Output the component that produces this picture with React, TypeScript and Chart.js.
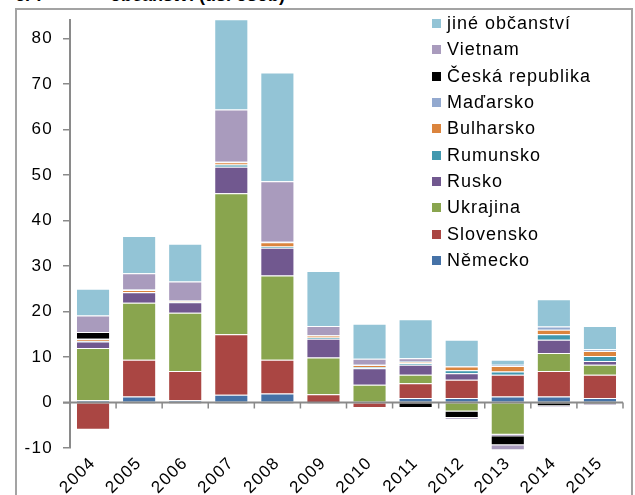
import React, { useEffect, useRef } from "react";
import { Chart, registerables } from "chart.js";

Chart.register(...registerables);

const years = ["2004", "2005", "2006", "2007", "2008", "2009", "2010", "2011", "2012", "2013", "2014", "2015"];

const nemecko = [0.5, 1.3, 0.5, 1.7, 2.0, 0.1, 0, 1.0, 1.0, 1.3, 1.3, 1.0];
const slovensko = [-6.0, 8.1, 6.4, 13.3, 7.4, 1.7, -1.2, 3.2, 4.0, 4.8, 5.6, 5.1];
const ukrajina = [11.5, 12.5, 12.8, 31.0, 18.5, 8.1, 3.9, 1.9, -2.0, -7.1, 4.0, 2.2];
const rusko = [1.4, 2.3, 2.3, 5.8, 6.1, 4.1, 3.6, 2.2, 1.4, -0.3, 2.9, 0.8];
const rumunsko = [0.1, 0.1, 0.2, 0.5, 0.3, 0.3, 0.3, 0.3, 0.7, 0.7, 1.2, 1.1];
const bulharsko = [0.4, 0.4, 0.1, 0.5, 0.9, 0.4, 0.4, 0.3, 0.8, 1.2, 1.0, 1.1];
const madarsko = [0.1, 0.1, 0.1, 0.1, 0.1, 0.1, 0.1, 0.2, 0.1, 0.3, 0.7, 0.4];
const ceskaRepublika = [1.5, -0.3, -0.3, -0.3, -0.3, -0.3, 0, -1.2, -1.4, -2.0, -0.8, -0.4];
const vietnam = [3.6, 3.6, 4.2, 11.5, 13.3, 2.0, 1.3, 0.6, -0.4, -1.1, -0.3, -0.3];
const jine = [5.9, 8.2, 8.3, 19.8, 23.9, 12.1, 7.7, 8.6, 5.8, 1.1, 6.0, 5.1];

const seriesNames = ["Německo", "Slovensko", "Ukrajina", "Rusko", "Rumunsko", "Bulharsko", "Maďarsko", "Česká republika", "Vietnam", "jiné občanství"];
const seriesData = [nemecko, slovensko, ukrajina, rusko, rumunsko, bulharsko, madarsko, ceskaRepublika, vietnam, jine];
const seriesColors = ["#4572a7", "#aa4643", "#89a54e", "#71588f", "#4198af", "#db843d", "#93a9cf", "#000000", "#a99bbd", "#93c4d6"];

const yTickValues = [-10, 0, 10, 20, 30, 40, 50, 60, 70, 80];

const FONT = "'Liberation Sans', Arial, sans-serif";

const letterSpacingPlugin = {
  id: "letterSpacing",
  beforeDraw(chart: any) {
    try {
      (chart.ctx as any).letterSpacing = "1.3px";
    } catch (e) {}
  },
};

const zeroAxisPlugin = {
  id: "zeroAxis",
  afterDatasetsDraw(chart: any) {
    const { ctx, chartArea, scales } = chart;
    const y0 = scales.y.getPixelForValue(0);
    ctx.save();
    ctx.strokeStyle = "#8a8a8a";
    ctx.lineWidth = 2;
    ctx.beginPath();
    ctx.moveTo(chartArea.left - 7, y0);
    ctx.lineTo(chartArea.right, y0);
    ctx.stroke();
    const n = years.length;
    const w = (chartArea.right - chartArea.left) / n;
    ctx.lineWidth = 1.5;
    for (let i = 1; i <= n; i++) {
      const x = chartArea.left + i * w;
      ctx.beginPath();
      ctx.moveTo(x, y0);
      ctx.lineTo(x, y0 + 6);
      ctx.stroke();
    }
    ctx.restore();
  },
};

export default function App() {
  const canvasRef = useRef<HTMLCanvasElement | null>(null);

  useEffect(() => {
    if (!canvasRef.current) return;
    const chart = new Chart(canvasRef.current, {
      type: "bar",
      data: {
        labels: years,
        datasets: seriesNames.map((name, i) => ({
          label: name,
          data: seriesData[i],
          backgroundColor: seriesColors[i],
          borderColor: "rgba(255,255,255,0.35)",
          borderWidth: 1,
          categoryPercentage: 1,
          barPercentage: 0.74,
          clip: false as any,
        })),
      },
      options: {
        animation: false,
        responsive: false,
        devicePixelRatio: 1,
        layout: { padding: { top: 19, right: 12, left: 0, bottom: 0 } },
        plugins: {
          legend: { display: false },
          tooltip: { enabled: false },
          title: { display: false },
        },
        scales: {
          x: {
            stacked: true,
            grid: { display: false },
            border: { display: false },
            ticks: {
              color: "#000",
              font: { family: FONT, size: 17 },
              minRotation: 45,
              maxRotation: 45,
              padding: -3,
            },
            afterFit(scale: any) {
              scale.height = 47;
            },
          },
          y: {
            stacked: true,
            min: -10,
            max: 84,
            border: { display: true, color: "#8a8a8a", width: 2 },
            grid: {
              display: true,
              drawOnChartArea: false,
              drawTicks: true,
              tickLength: 7,
              color: "#8a8a8a",
              lineWidth: 1.5,
            },
            ticks: {
              color: "#000",
              font: { family: FONT, size: 17 },
              padding: 10,
              stepSize: 10,
            },
            afterBuildTicks(scale: any) {
              scale.ticks = yTickValues.map((v) => ({ value: v }));
            },
            afterFit(scale: any) {
              scale.width = 70;
            },
          },
        },
      },
      plugins: [letterSpacingPlugin, zeroAxisPlugin],
    } as any);
    return () => chart.destroy();
  }, []);

  const legendItems = seriesNames.map((n, i) => ({ name: n, color: seriesColors[i] })).reverse();

  return (
    <div style={{ position: "fixed", left: 0, top: 0, width: 635, height: 495, overflow: "hidden", background: "#fff" }}>
      <div
        style={{
          position: "absolute",
          left: 15,
          top: 8,
          width: 618,
          height: 520,
          border: "2px solid #a3a3a3",
          boxSizing: "border-box",
        }}
      />
      <div style={{ position: "absolute", left: 15, top: -15, fontFamily: FONT, fontSize: 18, fontWeight: "bold", whiteSpace: "nowrap", color: "#000" }}>
        6. 7
      </div>
      <div style={{ position: "absolute", left: 110, top: -15, fontFamily: FONT, fontSize: 18, fontWeight: "bold", whiteSpace: "nowrap", color: "#000" }}>
        občanství (tis. osob)
      </div>
      <canvas ref={canvasRef} width={635} height={495} style={{ position: "absolute", left: 0, top: 0, width: 635, height: 495 }} />
      <div style={{ position: "absolute", left: 432, top: 10.5, fontFamily: FONT, fontSize: 18, letterSpacing: "1px", color: "#000" }}>
        {legendItems.map((it) => (
          <div key={it.name} style={{ display: "flex", alignItems: "center", height: 26.3, whiteSpace: "nowrap" }}>
            <span style={{ display: "inline-block", width: 9, height: 9, background: it.color, marginRight: 6 }} />
            <span>{it.name}</span>
          </div>
        ))}
      </div>
    </div>
  );
}
